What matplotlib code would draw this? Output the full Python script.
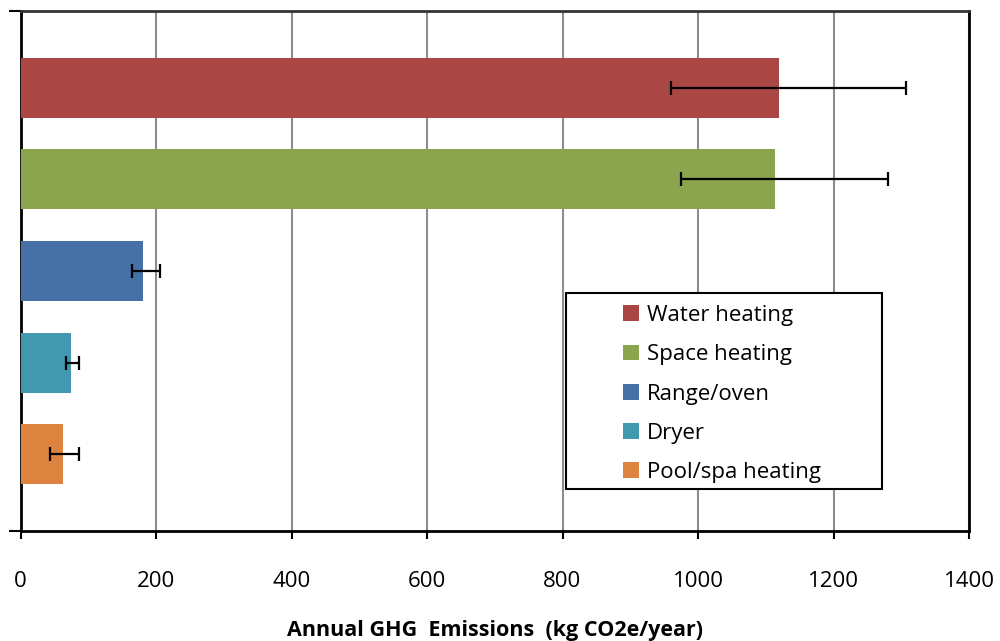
import matplotlib
matplotlib.use("Agg")
import matplotlib.pyplot as plt
from matplotlib.patches import Rectangle, Patch
import numpy as np

categories = ["Water heating", "Space heating", "Range/oven", "Dryer", "Pool/spa heating"]
values = [1120, 1114, 181, 74.5, 63]
err_low = [960, 975, 165, 67, 43]
err_high = [1307, 1280, 206, 86, 86]
colors = ["#AA4744", "#8AA54E", "#4571A7", "#4298AF", "#DC843F"]
x_ticks = [0, 200, 400, 600, 800, 1000, 1200, 1400]
x_label = "Annual GHG  Emissions  (kg CO2e/year)"

plt.rcParams['font.family'] = ['Open Sans', 'DejaVu Sans']

fig = plt.figure(figsize=(10, 6.41), dpi=100)
ax = fig.add_axes([0.0205, 1 - 531 / 641, 0.9485, 520 / 641])

y = np.arange(len(categories))
vals = np.array(values)
xerr = np.array([vals - np.array(err_low), np.array(err_high) - vals])
ax.barh(y, vals, height=0.656, color=colors, zorder=3)
ax.errorbar(vals, y, xerr=xerr, fmt='none', ecolor='black', elinewidth=1.6,
            capsize=5, capthick=1.6, zorder=4)

ax.set_xlim(0, 1400)
ax.set_ylim(4.84, -0.84)
ax.set_xticks(x_ticks)
ax.set_xticklabels([str(t) for t in x_ticks], fontsize=16)
ax.tick_params(axis='x', direction='out', length=6, width=1.5, pad=23)
ax.set_yticks([-0.84, 4.84])
ax.set_yticklabels([])
ax.tick_params(axis='y', direction='out', length=9, width=1.5)
ax.xaxis.grid(True, color='#8c8c8c', linewidth=1.5, zorder=0)
ax.set_axisbelow(True)
for s in ax.spines.values():
    s.set_color('black')
    s.set_linewidth(2)
ax.spines['top'].set_color('#333333')

ax.set_xlabel(x_label, fontsize=15.5, fontweight='bold', labelpad=20)

# legend frame
rect = Rectangle((566 / 1000, 1 - 489 / 641), 316 / 1000, 196 / 641,
                 transform=fig.transFigure, facecolor='white', edgecolor='black',
                 linewidth=1.5, clip_on=False, zorder=6)
ax.add_patch(rect)

handles = [Patch(facecolor=c, edgecolor='none') for c in colors]
leg = ax.legend(handles, categories, loc='upper left',
                bbox_to_anchor=(612 / 1000, 1 - 294 / 641),
                bbox_transform=fig.transFigure, frameon=False, fontsize=16,
                borderpad=0, handlelength=0.72, handleheight=0.72,
                handletextpad=0.35, labelspacing=0.82)
leg.set_zorder(7)

fig.savefig("out.png", dpi=100)
